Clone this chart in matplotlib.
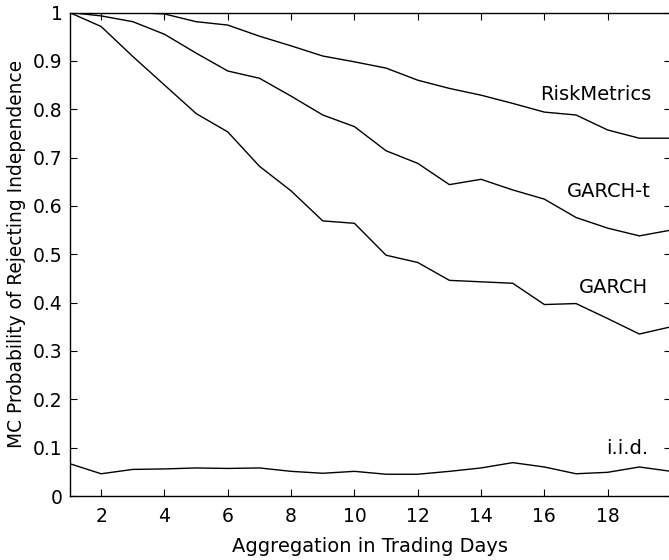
import matplotlib
matplotlib.use("Agg")
import matplotlib.pyplot as plt

days = list(range(1, 21))
riskmetrics = [1.0, 1.0, 1.0, 0.997, 0.981, 0.974, 0.951, 0.931, 0.910, 0.898,
               0.885, 0.860, 0.843, 0.829, 0.812, 0.794, 0.788, 0.757, 0.740, 0.740]
garch_t = [1.0, 0.993, 0.981, 0.955, 0.916, 0.879, 0.864, 0.827, 0.788, 0.764,
           0.714, 0.688, 0.644, 0.655, 0.633, 0.614, 0.576, 0.554, 0.538, 0.550]
garch = [1.0, 0.971, 0.909, 0.850, 0.791, 0.753, 0.682, 0.631, 0.569, 0.564,
         0.498, 0.483, 0.446, 0.443, 0.440, 0.396, 0.398, 0.367, 0.335, 0.350]
iid = [0.067, 0.046, 0.055, 0.056, 0.058, 0.057, 0.058, 0.051, 0.047, 0.051,
       0.045, 0.045, 0.051, 0.058, 0.069, 0.060, 0.046, 0.049, 0.060, 0.051]

series_labels = ["RiskMetrics", "GARCH-t", "GARCH", "i.i.d."]
label_x = [19.37, 19.37, 19.27, 19.27]
label_y = [0.819, 0.619, 0.419, 0.087]

xticks = [2, 4, 6, 8, 10, 12, 14, 16, 18]
yticks = [0, 0.1, 0.2, 0.3, 0.4, 0.5, 0.6, 0.7, 0.8, 0.9, 1.0]
ytick_labels = ["0", "0.1", "0.2", "0.3", "0.4", "0.5", "0.6", "0.7", "0.8", "0.9", "1"]

plt.rcParams['font.family'] = ['DejaVu Sans']

fig = plt.figure(figsize=(6.69, 5.6), dpi=100)
ax = fig.add_axes([69.5 / 669, 64 / 560, 601.5 / 669, 483.5 / 560])

for s in [riskmetrics, garch_t, garch, iid]:
    ax.plot(days, s, color="black", linewidth=1.0)

for lab, lx, ly in zip(series_labels, label_x, label_y):
    ax.text(lx, ly, lab, ha="right", va="baseline", fontsize=14, color="black")

ax.set_xlim(1, 20)
ax.set_ylim(0, 1)
ax.set_xticks(xticks)
ax.set_xticklabels([str(t) for t in xticks])
ax.set_yticks(yticks)
ax.set_yticklabels(ytick_labels)
ax.tick_params(direction="in", length=5, width=0.8, top=True, right=True,
               labelsize=13.5, colors="black")
ax.tick_params(axis="x", pad=8)
ax.tick_params(axis="y", pad=5)
for sp in ax.spines.values():
    sp.set_linewidth(1.0)
    sp.set_color("black")

ax.set_xlabel("Aggregation in Trading Days", fontsize=14, labelpad=8)
ax.set_ylabel("MC Probability of Rejecting Independence", fontsize=13.4, labelpad=5)

fig.savefig("out.png", dpi=100)
